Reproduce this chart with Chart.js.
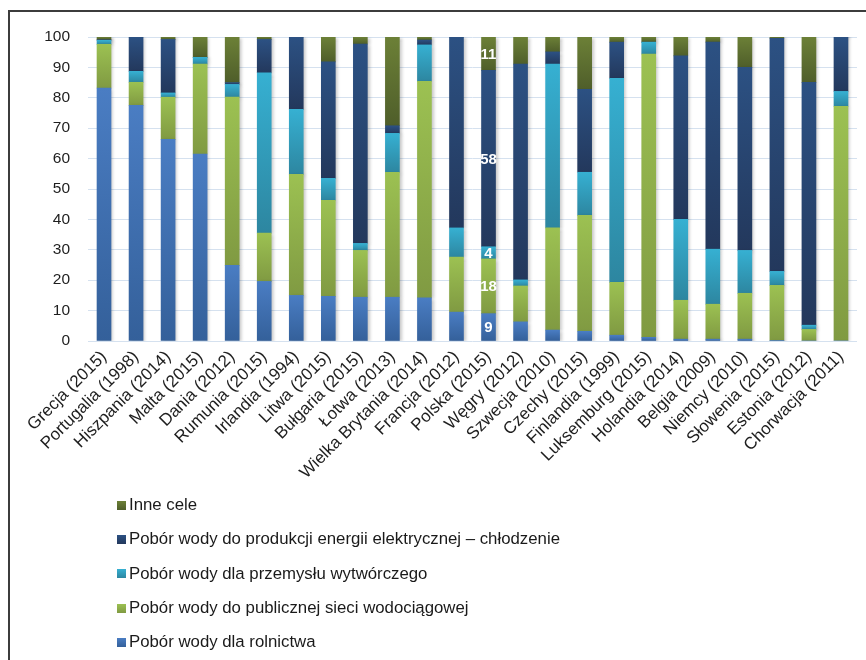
<!DOCTYPE html>
<html lang="pl">
<head>
<meta charset="utf-8">
<title>Pobór wody według celów</title>
<script src="https://cdn.jsdelivr.net/npm/chart.js@4/dist/chart.umd.min.js"></script>
<style>
  html, body { margin: 0; padding: 0; background: #ffffff; }
  #wrap { position: relative; width: 866px; height: 660px; overflow: hidden; }
  #chart { position: absolute; left: 0; top: 0; }
  #frame {
    position: absolute; left: 8px; top: 10px; width: 900px; height: 700px;
    border-left: 2px solid #3c3c3c; border-top: 2px solid #3c3c3c;
    pointer-events: none;
  }
  #legend {
    position: absolute; left: 117px; top: 488px; margin: 0; padding: 0; list-style: none;
    font-family: "Liberation Sans", Arial, sans-serif; font-size: 16.8px; color: #1a1a1a;
  }
  #legend li { display: flex; align-items: center; height: 34.3px; white-space: nowrap; }
  #legend .box { width: 9px; height: 9px; margin-right: 3px; flex: none; }
</style>
</head>
<body>
<div id="wrap">
  <canvas id="chart" width="866" height="660"></canvas>
  <div id="frame"></div>
  <ul id="legend"></ul>
</div>
<script>
// Kraje (rok pomiaru)
const countries = [
  'Grecja (2015)', 'Portugalia (1998)', 'Hiszpania (2014)', 'Malta (2015)',
  'Dania (2012)', 'Rumunia (2015)', 'Irlandia (1994)', 'Litwa (2015)',
  'Bułgaria (2015)', 'Łotwa (2013)', 'Wielka Brytania (2014)', 'Francja (2012)',
  'Polska (2015)', 'Węgry (2012)', 'Szwecja (2010)', 'Czechy (2015)',
  'Finlandia (1999)', 'Luksemburg (2015)', 'Holandia (2014)', 'Belgia (2009)',
  'Niemcy (2010)', 'Słowenia (2015)', 'Estonia (2012)', 'Chorwacja (2011)'
];

// Udział w poborze wody ogółem [%]
const rolnictwo = [83.2, 77.5, 66.3, 61.5, 24.9, 19.6, 15.0, 14.7, 14.4, 14.4, 14.2, 9.5,
                   9, 6.3, 3.6, 3.2, 1.9, 1.2, 0.6, 0.6, 0.6, 0.2, 0, 0];
const siecWodociagowa = [14.4, 7.6, 13.9, 29.6, 55.3, 15.9, 39.8, 31.6, 15.4, 41.1, 71.2, 18.1,
                         18, 11.8, 33.6, 38.1, 17.4, 93.2, 12.8, 11.5, 15.1, 18.1, 3.8, 77.2];
const przemysl = [1.3, 3.6, 1.4, 2.2, 4.2, 52.7, 21.4, 7.2, 2.3, 12.8, 12.0, 9.6,
                  4, 2.0, 53.9, 14.2, 67.1, 3.9, 26.6, 18.1, 14.1, 4.6, 1.4, 4.9];
const chlodzenie = [0.2, 11.3, 17.6, 0, 0.6, 11.0, 23.8, 38.3, 65.6, 2.5, 1.6, 62.8,
                    58, 71.0, 4.0, 27.3, 11.9, 0, 53.8, 68.1, 60.2, 76.7, 79.9, 18.0];
const inneCele = [0.9, 0, 0.8, 6.7, 15.0, 0.8, 0, 8.2, 2.3, 29.2, 1.0, 0,
                  11, 8.9, 4.9, 17.2, 1.7, 1.7, 6.2, 1.7, 10.0, 0.4, 14.9, 0.4];

const yTicks = [0, 10, 20, 30, 40, 50, 60, 70, 80, 90, 100];
const labelledCountry = 'Polska (2015)';

const series = [
  { label: 'Pobór wody dla rolnictwa', data: rolnictwo, top: '#4a7dc3', bottom: '#34609a' },
  { label: 'Pobór wody do publicznej sieci wodociągowej', data: siecWodociagowa, top: '#9cc152', bottom: '#809a42' },
  { label: 'Pobór wody dla przemysłu wytwórczego', data: przemysl, top: '#36b0d2', bottom: '#2d86a0' },
  { label: 'Pobór wody do produkcji energii elektrycznej – chłodzenie', data: chlodzenie, top: '#2c5183', bottom: '#23385c' },
  { label: 'Inne cele', data: inneCele, top: '#6c8037', bottom: '#4f5e2a' }
];

// Each stacked segment gets its own vertical gradient (lighter at the top).
function segmentFill(ctx) {
  const s = series[ctx.datasetIndex];
  const chart = ctx.chart;
  if (ctx.type !== 'data' || !chart.chartArea) return s.top;
  const y = chart.scales.y;
  let base = 0;
  for (let k = 0; k < ctx.datasetIndex; k++) base += series[k].data[ctx.dataIndex];
  const top = base + s.data[ctx.dataIndex];
  const y0 = y.getPixelForValue(top);
  const y1 = y.getPixelForValue(base);
  if (!(y1 - y0 > 0.5)) return s.top;
  const g = chart.ctx.createLinearGradient(0, y0, 0, y1);
  g.addColorStop(0, s.top);
  g.addColorStop(1, s.bottom);
  return g;
}

const barShadowAndLabels = {
  id: 'barShadowAndLabels',
  beforeDatasetsDraw(chart) {
    const c = chart.ctx;
    c.save();
    c.shadowColor = 'rgba(0,0,0,0.22)';
    c.shadowBlur = 3;
    c.shadowOffsetX = 2;
    c.shadowOffsetY = 1;
  },
  afterDatasetsDraw(chart) {
    const c = chart.ctx;
    c.restore();
    const idx = countries.indexOf(labelledCountry);
    if (idx < 0) return;
    c.save();
    c.fillStyle = '#ffffff';
    c.font = 'bold 15px "Liberation Sans", Arial, sans-serif';
    c.textAlign = 'center';
    c.textBaseline = 'middle';
    chart.data.datasets.forEach((ds, i) => {
      const el = chart.getDatasetMeta(i).data[idx];
      const v = ds.data[idx];
      if (!el || !v) return;
      c.fillText(String(v), el.x, (el.y + el.base) / 2 + 1);
    });
    c.restore();
  }
};

const chart = new Chart(document.getElementById('chart'), {
  type: 'bar',
  data: {
    labels: countries,
    datasets: series.map(s => ({
      label: s.label,
      data: s.data,
      backgroundColor: segmentFill,
      borderWidth: 0,
      barThickness: 14
    }))
  },
  options: {
    responsive: false,
    animation: false,
    layout: { padding: { top: 37, right: 9, bottom: 0, left: 0 } },
    plugins: {
      legend: { display: false },
      tooltip: { enabled: false }
    },
    scales: {
      x: {
        stacked: true,
        grid: { display: false, drawTicks: false },
        border: { display: false },
        ticks: {
          autoSkip: false,
          maxRotation: 45,
          minRotation: 45,
          padding: 6,
          color: '#1e1e1e',
          font: { family: '"Liberation Sans", Arial, sans-serif', size: 17 }
        },
        afterFit(scale) { scale.height = 319; }
      },
      y: {
        stacked: true,
        min: 0,
        max: 100,
        afterBuildTicks(scale) { scale.ticks = yTicks.map(v => ({ value: v })); },
        grid: { color: '#d5e1ef', lineWidth: 1, drawTicks: false },
        border: { display: false },
        ticks: {
          padding: 18,
          color: '#1e1e1e',
          font: { family: '"Liberation Sans", Arial, sans-serif', size: 15.5 }
        },
        afterFit(scale) { scale.width = 88; }
      }
    }
  },
  plugins: [barShadowAndLabels]
});

// Legend: top of the stack first
const legend = document.getElementById('legend');
series.slice().reverse().forEach(s => {
  const li = document.createElement('li');
  const box = document.createElement('span');
  box.className = 'box';
  box.style.background = 'linear-gradient(' + s.top + ', ' + s.bottom + ')';
  li.appendChild(box);
  li.appendChild(document.createTextNode(s.label));
  legend.appendChild(li);
});
</script>
</body>
</html>
